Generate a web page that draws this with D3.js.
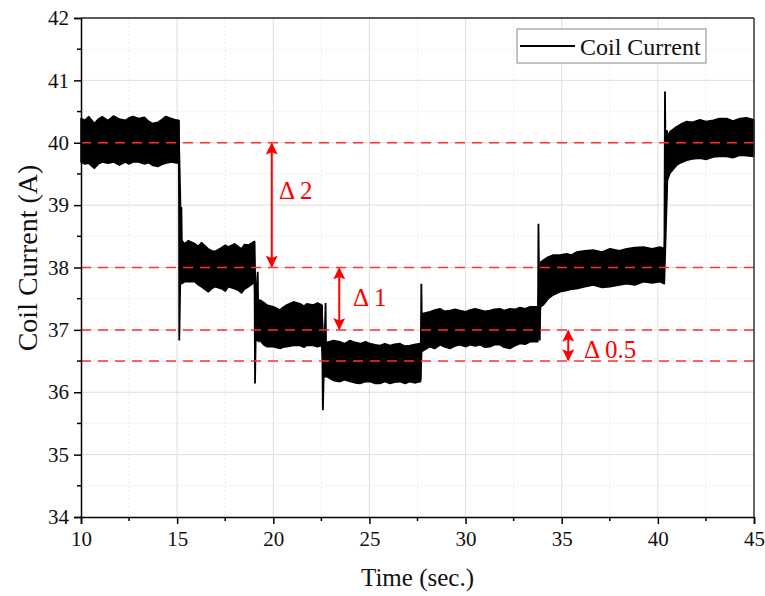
<!DOCTYPE html>
<html>
<head>
<meta charset="utf-8">
<script src="https://cdn.jsdelivr.net/npm/d3@7"></script>
<style>
  body { margin: 0; background: #fff; }
  svg text { font-family: "Liberation Serif", "Times New Roman", serif; }
</style>
</head>
<body>
<div id="chart"></div>
<script>
// envelope of the coil current band (upper / lower edge)
const bandTime = [
  10, 10.2, 10.4, 10.7, 10.9, 11.1, 11.4, 11.7, 12.0, 12.3, 12.5, 12.7, 13.0, 13.3, 13.5, 13.7, 14.0, 14.2, 14.4, 14.7, 14.9, 15.08,
  15.22, 15.4, 15.58, 15.93, 16.1, 16.27, 16.62, 16.8, 16.97, 17.31, 17.5, 17.66, 18.0, 18.2, 18.35, 18.5, 18.7, 19.02,
  19.1, 19.31, 19.5, 19.66, 20.0, 20.35, 20.5, 20.7, 21.05, 21.39, 21.6, 21.74, 22.08, 22.3, 22.52,
  22.62, 22.78, 23.12, 23.47, 23.7, 23.99, 24.25, 24.51, 24.8, 25.03, 25.3, 25.55, 25.8, 26.07, 26.3, 26.59, 26.85, 27.11, 27.4, 27.66,
  27.72, 28.15, 28.4, 28.67, 28.9, 29.19, 29.45, 29.71, 30.0, 30.23, 30.5, 30.75, 31.0, 31.27, 31.5, 31.79, 32.0, 32.31, 32.6, 32.83, 33.1, 33.35, 33.76,
  33.9, 34.04, 34.3, 34.56, 34.91, 35.26, 35.5, 35.78, 36.2, 36.64, 37.1, 37.51, 38.0, 38.38, 38.8, 39.25, 39.7, 40.11, 40.34,
  40.5, 40.63, 40.98, 41.2, 41.5, 41.8, 42.19, 42.5, 42.88, 43.2, 43.58, 43.9, 44.27, 44.6, 45
];
const bandHigh = [
  40.39, 40.36, 40.42, 40.31, 40.38, 40.42, 40.36, 40.43, 40.38, 40.36, 40.40, 40.42, 40.39, 40.41, 40.35, 40.31, 40.33, 40.37, 40.42, 40.39, 40.37, 40.36,
  38.44, 38.38, 38.43, 38.38, 38.34, 38.40, 38.30, 38.27, 38.26, 38.32, 38.36, 38.33, 38.38, 38.33, 38.30, 38.37, 38.36, 38.42,
  37.40, 37.48, 37.44, 37.40, 37.37, 37.32, 37.36, 37.40, 37.45, 37.42, 37.38, 37.42, 37.40, 37.43, 37.40,
  36.78, 36.80, 36.83, 36.81, 36.78, 36.83, 36.80, 36.78, 36.81, 36.78, 36.76, 36.75, 36.78, 36.75, 36.77, 36.78, 36.74, 36.75, 36.77, 36.78,
  37.26, 37.29, 37.32, 37.34, 37.30, 37.31, 37.33, 37.31, 37.29, 37.32, 37.34, 37.32, 37.30, 37.31, 37.33, 37.34, 37.31, 37.34, 37.33, 37.36, 37.34, 37.37, 37.37,
  38.08, 38.12, 38.17, 38.20, 38.20, 38.22, 38.20, 38.25, 38.27, 38.28, 38.25, 38.30, 38.27, 38.30, 38.32, 38.33, 38.30, 38.33, 38.30,
  40.10, 40.18, 40.26, 40.30, 40.34, 40.33, 40.37, 40.34, 40.36, 40.39, 40.39, 40.35, 40.39, 40.40, 40.37
];
const bandLow = [
  39.69, 39.66, 39.67, 39.59, 39.66, 39.69, 39.67, 39.69, 39.64, 39.69, 39.66, 39.69, 39.69, 39.66, 39.68, 39.64, 39.62, 39.65, 39.67, 39.69, 39.68, 39.67,
  37.74, 37.77, 37.77, 37.77, 37.72, 37.69, 37.61, 37.66, 37.69, 37.66, 37.62, 37.69, 37.66, 37.63, 37.59, 37.65, 37.69, 37.76,
  36.83, 36.83, 36.76, 36.73, 36.73, 36.70, 36.72, 36.73, 36.75, 36.75, 36.72, 36.75, 36.75, 36.73, 36.75,
  36.25, 36.25, 36.19, 36.17, 36.20, 36.17, 36.15, 36.14, 36.17, 36.17, 36.14, 36.14, 36.17, 36.14, 36.16, 36.17, 36.14, 36.17, 36.15, 36.17,
  36.65, 36.73, 36.70, 36.76, 36.73, 36.70, 36.74, 36.76, 36.73, 36.76, 36.74, 36.76, 36.72, 36.73, 36.76, 36.76, 36.72, 36.70, 36.75, 36.78, 36.77, 36.81, 36.81,
  37.37, 37.40, 37.50, 37.56, 37.61, 37.63, 37.65, 37.66, 37.69, 37.72, 37.68, 37.69, 37.72, 37.74, 37.72, 37.77, 37.75, 37.77, 37.74,
  39.40, 39.51, 39.64, 39.68, 39.72, 39.74, 39.75, 39.73, 39.77, 39.78, 39.78, 39.76, 39.80, 39.79, 39.78
];

// transients at each step change (time, current)
const spikeTime = [
  [15.09, 15.11, 15.17, 15.22, 15.27],
  [19.02, 19.05, 19.12, 19.19, 19.24],
  [22.53, 22.58, 22.64, 22.72, 22.76],
  [27.66, 27.7, 27.74],
  [33.76, 33.79, 33.86, 33.92],
  [40.34, 40.37, 40.43, 40.48]
];
const spikeValue = [
  [40.36, 36.83, 37.9, 38.97, 37.8],
  [38.42, 36.14, 37.6, 37.93, 36.8],
  [37.40, 35.71, 36.5, 37.43, 36.3],
  [36.20, 37.74, 36.8],
  [36.90, 38.70, 36.83, 38.10],
  [38.30, 40.82, 38.92, 40.20]
];

const refLines = [40, 38, 37, 36.5];
const deltaTime = [19.92, 23.43, 35.34];
const deltaFrom = [40, 38, 37];
const deltaTo = [38, 37, 36.5];
const deltaLabel = ['Δ 2', 'Δ 1', 'Δ 0.5'];
const deltaLabelPos = [[279, 199], [353, 306], [584, 358]];

const xTicks = [10, 15, 20, 25, 30, 35, 40, 45];
const yTicks = [34, 35, 36, 37, 38, 39, 40, 41, 42];

const w = 765, h = 596;
const padL = 81, padR = 754, padT = 18, padB = 517;
const serif = '"Liberation Serif", "Times New Roman", serif';

const xScale = d3.scaleLinear().domain([10, 45]).range([padL, padR]);
const yScale = d3.scaleLinear().domain([34, 42]).range([padB, padT]);

const svg = d3.select('#chart').append('svg')
  .attr('width', w).attr('height', h);

// grid
const xMinor = d3.range(12.5, 45, 5);
const yMinor = d3.range(34.5, 42, 1);
svg.append('g').selectAll('line').data(xMinor).enter().append('line')
  .attr('x1', d => xScale(d)).attr('x2', d => xScale(d))
  .attr('y1', padT).attr('y2', padB)
  .attr('stroke', '#ededed').attr('stroke-dasharray', '2,2');
svg.append('g').selectAll('line').data(yMinor).enter().append('line')
  .attr('y1', d => yScale(d)).attr('y2', d => yScale(d))
  .attr('x1', padL).attr('x2', padR)
  .attr('stroke', '#ededed').attr('stroke-dasharray', '2,2');
svg.append('g').selectAll('line').data(xTicks.slice(1, -1)).enter().append('line')
  .attr('x1', d => xScale(d)).attr('x2', d => xScale(d))
  .attr('y1', padT).attr('y2', padB)
  .attr('stroke', '#dedede');
svg.append('g').selectAll('line').data(yTicks.slice(1, -1)).enter().append('line')
  .attr('y1', d => yScale(d)).attr('y2', d => yScale(d))
  .attr('x1', padL).attr('x2', padR)
  .attr('stroke', '#dedede');

// band
const band = bandTime.map((t, i) => [t, bandHigh[i], bandLow[i]]);
svg.append('path')
  .datum(band)
  .attr('d', d3.area().x(d => xScale(d[0])).y0(d => yScale(d[2])).y1(d => yScale(d[1])))
  .attr('fill', '#000').attr('stroke', '#000').attr('stroke-width', 1.5)
  .attr('stroke-linejoin', 'round');

const spikeLine = d3.line().x(d => xScale(d[0])).y(d => yScale(d[1]));
spikeTime.forEach((ts, k) => {
  svg.append('path')
    .datum(ts.map((t, i) => [t, spikeValue[k][i]]))
    .attr('d', spikeLine)
    .attr('fill', 'none').attr('stroke', '#000').attr('stroke-width', 1.8);
});

// red dashed reference lines
svg.append('g').selectAll('line').data(refLines).enter().append('line')
  .attr('x1', padL).attr('x2', padR)
  .attr('y1', d => yScale(d)).attr('y2', d => yScale(d))
  .attr('stroke', '#ff3030').attr('stroke-width', 1.5)
  .attr('stroke-dasharray', '10,7');

// delta arrows
svg.append('defs').append('marker')
  .attr('id', 'head').attr('viewBox', '0 0 10 10')
  .attr('refX', 9).attr('refY', 5)
  .attr('markerWidth', 6).attr('markerHeight', 6)
  .attr('markerUnits', 'strokeWidth')
  .attr('orient', 'auto-start-reverse')
  .append('path').attr('d', 'M0,0 L10,5 L0,10 L2,5 Z').attr('fill', '#ff0000');

deltaTime.forEach((t, i) => {
  svg.append('line')
    .attr('x1', xScale(t)).attr('x2', xScale(t))
    .attr('y1', yScale(deltaFrom[i]) + 1).attr('y2', yScale(deltaTo[i]) - 1)
    .attr('stroke', '#ff0000').attr('stroke-width', 2)
    .attr('marker-start', 'url(#head)').attr('marker-end', 'url(#head)');
  svg.append('text')
    .attr('x', deltaLabelPos[i][0]).attr('y', deltaLabelPos[i][1])
    .attr('fill', '#ff0000').attr('font-size', 25).attr('font-family', serif)
    .text(deltaLabel[i]);
});

// frame
svg.append('line').attr('x1', padL).attr('x2', padR).attr('y1', padT).attr('y2', padT)
  .attr('stroke', '#222').attr('stroke-width', 1.5);
svg.append('line').attr('x1', padR).attr('x2', padR).attr('y1', padT).attr('y2', padB)
  .attr('stroke', '#333').attr('stroke-width', 1.5);

// axes
const xAxis = svg.append('g').attr('transform', `translate(0,${padB})`)
  .call(d3.axisBottom(xScale).tickValues(xTicks).tickSize(7).tickPadding(7).tickFormat(d3.format('d')));
xAxis.append('g').selectAll('line').data(xMinor).enter().append('line')
  .attr('x1', d => xScale(d)).attr('x2', d => xScale(d)).attr('y1', 0).attr('y2', 4)
  .attr('stroke', '#000').attr('stroke-width', 1.5);
const yAxis = svg.append('g').attr('transform', `translate(${padL},0)`)
  .call(d3.axisLeft(yScale).tickValues(yTicks).tickSize(7).tickPadding(5).tickFormat(d3.format('d')));
yAxis.append('g').selectAll('line').data(yMinor).enter().append('line')
  .attr('x1', 0).attr('x2', -4).attr('y1', d => yScale(d)).attr('y2', d => yScale(d))
  .attr('stroke', '#000').attr('stroke-width', 1.5);
[xAxis, yAxis].forEach(a => {
  a.attr('font-family', serif).attr('font-size', 21);
  a.select('.domain').attr('stroke', '#000').attr('stroke-width', 1.5);
  a.selectAll('.tick line').attr('stroke', '#000').attr('stroke-width', 1.5);
  a.selectAll('.tick text').attr('fill', '#111');
});

// axis titles
svg.append('text').attr('x', (padL + padR) / 2).attr('y', 586)
  .attr('text-anchor', 'middle').attr('font-size', 25).attr('font-family', serif).attr('fill', '#111')
  .text('Time (sec.)');
svg.append('text').attr('transform', 'translate(37,258) rotate(-90)')
  .attr('text-anchor', 'middle').attr('font-size', 28).attr('font-family', serif).attr('fill', '#111')
  .text('Coil Current (A)');

// legend
svg.append('rect').attr('x', 517).attr('y', 29).attr('width', 189).attr('height', 34)
  .attr('fill', '#fff').attr('stroke', '#888');
svg.append('line').attr('x1', 520).attr('x2', 575).attr('y1', 46).attr('y2', 46)
  .attr('stroke', '#000').attr('stroke-width', 2);
svg.append('text').attr('x', 580).attr('y', 55).attr('font-size', 24).attr('font-family', serif).attr('fill', '#111')
  .text('Coil Current');
</script>
</body>
</html>
